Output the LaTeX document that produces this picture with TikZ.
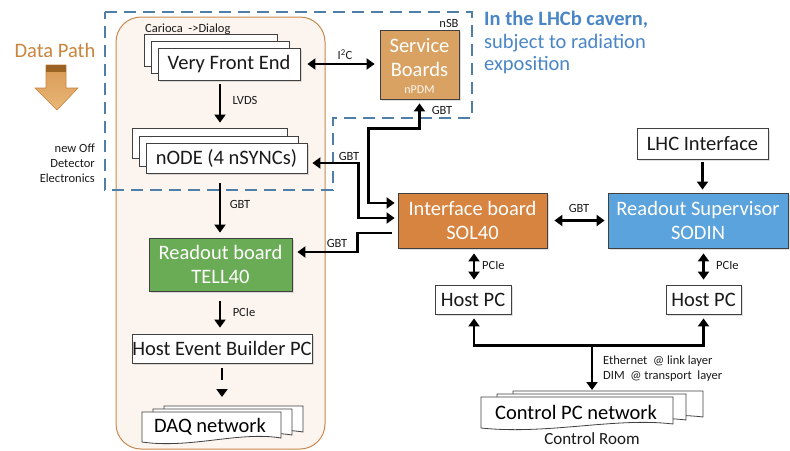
\documentclass[tikz,border=0pt]{standalone}
\usepackage{fontspec}
\setmainfont{Carlito}
\usetikzlibrary{arrows.meta,calc,shadows}
\definecolor{beigefill}{HTML}{FCF4EE}
\definecolor{beigeline}{HTML}{C8894F}
\definecolor{cavern}{HTML}{4F7EA8}
\definecolor{cavtext}{HTML}{4A86C6}
\definecolor{datapath}{HTML}{C9843E}
\definecolor{dpdark}{HTML}{9C6424}
\definecolor{dptop}{HTML}{D89A55}
\definecolor{dpbot}{HTML}{E9B677}
\definecolor{sbfill}{HTML}{D9A262}
\definecolor{solfill}{HTML}{D6843F}
\definecolor{sodinfill}{HTML}{5BA3DC}
\definecolor{tellfill}{HTML}{6AAB55}
\definecolor{ink}{HTML}{1A1A1A}
\newcommand\mydoc[4]{\filldraw[docst] (#1,#2) -- (#3,#2) -- (#3,#4) .. controls +({-0.3*(#3-#1)},-7) and +({0.35*(#3-#1)},7) .. (#1,{#4+4}) -- cycle;}
\begin{document}
\begin{tikzpicture}[x=1pt,y=-1pt,
  bigf/.style={font=\fontsize{20.5}{24}\selectfont},
  box/.style={draw=black!75, line width=0.8pt, fill=white, inner sep=0pt, align=center, text=ink, bigf,
    drop shadow={shadow xshift=1.5pt, shadow yshift=-1.5pt, opacity=0.25}},
  colbox/.style={box, text=white},
  docst/.style={draw=black!75, line width=0.8pt, fill=white},
  lbl/.style={font=\fontsize{12.5}{15}\selectfont, inner sep=0pt, text=ink},
  wtxt/.style={bigf, text=white, inner sep=0pt, align=center},
  conn/.style={line width=2.6pt, draw=black, -{Triangle[length=8pt,width=11pt]}},
  dconn/.style={line width=2.6pt, draw=black, {Triangle[length=8pt,width=11pt]}-{Triangle[length=8pt,width=11pt]}},
]
\useasboundingbox (0,0) rectangle (790,450);
\fill[white] (0,0) rectangle (790,450);

% ODE column
\draw[fill=beigefill, draw=beigeline, line width=1pt, rounded corners=25pt] (116,17) rectangle (325,449);

% Data path
\node[bigf, text=datapath, inner sep=0pt] (dptext) at (55,50) {Data Path};
\shade[top color=dptop, bottom color=dpbot, draw=datapath, line width=0.6pt]
  (46,65) -- (66,65) -- (66,88) -- (78,88) -- (57,110) -- (35,88) -- (46,88) -- cycle;
\fill[dpdark] (46,65) rectangle (66,72);
\node[lbl, anchor=east, align=right, font=\fontsize{12.5}{15.2}\selectfont] (ode) at (95,163) {new Off\\Detector\\Electronics};

% Very Front End stack
\draw[docst] (144,34) rectangle (277,66);
\draw[docst] (151,41) rectangle (289,73);
\node[box, minimum width=142, minimum height=32] (vfe) at (229,64) {Very Front End};
\node[lbl, anchor=base west] (car) at (145,32) {Carioca\ \ ->Dialog};

% nODE stack
\node[docst, inner sep=0pt, minimum width=155, minimum height=30] (ndb1) at (209.5,143) {};
\draw[docst] (139,136) rectangle (298,166);
\node[box, minimum width=161, minimum height=30] (nde) at (226.5,158) {nODE (4 nSYNCs)};

% TELL40
\node[colbox, fill=tellfill, minimum width=143, minimum height=53] (tell) at (220.5,264.5) {Readout board\\TELL40};
% Host event builder
\node[box, minimum width=180, minimum height=29] (heb) at (222,348.5) {Host Event Builder PC};
% DAQ network
\mydoc{164}{406}{303}{432}
\mydoc{153}{409}{292}{435}
\mydoc{142}{412}{281}{438}
\coordinate (daqtop) at (222,406);
\node[bigf, inner sep=0pt] (daq) at (210,427) {DAQ network};

% Service boards
\node[colbox, fill=sbfill, minimum width=79, minimum height=69] (sb) at (419.5,64.5) {};
\node[wtxt] (sbt) at ($(sb.center)+(0,-7)$) {Service\\Boards};
\node[lbl, text=white!92!sbfill, font=\fontsize{12}{14}\selectfont] (npdm) at ($(sb.south)+(0,-10)$) {nPDM};
\node[lbl] (nsb) at (449,23) {nSB};

% cavern dashed region
\draw[cavern, line width=2.6pt, dash pattern=on 12pt off 7pt]
  (105,12) -- (472,12) -- (472,118) -- (333,118) -- (333,190) -- (105,190) -- cycle;
\node[bigf, text=cavtext, anchor=base west, inner sep=0pt] (cav1) at (484,25) {\textbf{In the LHCb cavern,}};
\node[bigf, text=cavtext, anchor=base west, inner sep=0pt] (cav2) at (484,48) {subject to radiation};
\node[bigf, text=cavtext, anchor=base west, inner sep=0pt] (cav3) at (484,70) {exposition};

% SOL40, SODIN, LHC
\node[colbox, fill=solfill, minimum width=149, minimum height=55] (sol) at (472.5,220.5) {Interface board\\SOL40};
\node[colbox, fill=sodinfill, minimum width=180, minimum height=55] (sodin) at (698,220.5) {Readout Supervisor\\SODIN};
\node[box, minimum width=131, minimum height=31] (lhc) at (702.5,143.5) {LHC Interface};
\node[box, minimum width=76, minimum height=29] (hpl) at (473,299.5) {Host PC};
\node[box, minimum width=75, minimum height=29] (hpr) at (703.5,299.5) {Host PC};

% Control PC network
\mydoc{513}{391}{703}{417}
\mydoc{497}{394}{686}{420}
\mydoc{481}{397}{673}{424}
\coordinate (cpctop) at (592,391);
\node[bigf, inner sep=0pt] (cpc) at (576,412) {Control PC network};
\node[font=\fontsize{17}{20}\selectfont, inner sep=0pt, text=ink] (croom) at (592,439) {Control Room};

% columns
\coordinate (colA) at (220,0);
\coordinate (colB) at (222,0);
\coordinate (colC) at (474,0);

% connectors left column
\draw[dconn] ($(vfe.east)+(7,0)$) -- ($(sb.west)+(-5,-0.5)$);
\node[lbl] (i2c) at (345,55) {I\textsuperscript{2}C};
\draw[conn] ($(vfe.south -| colA)+(0,4)$) -- ($(ndb1.north -| colA)+(0,-5)$);
\node[lbl] (lvds) at (245,100) {LVDS};
\draw[conn] ($(nde.south -| colA)+(0,10)$) -- ($(tell.north -| colA)+(0,-5)$);
\node[lbl] (g1) at (240,204) {GBT};
\draw[conn] ($(tell.south -| colA)+(0,10)$) -- ($(heb.north -| colA)+(0,-6)$);
\node[lbl] (p1) at (244,312) {PCIe};
\draw[conn, dash pattern=on 12pt off 9pt] ($(heb.south -| colB)+(0,5)$) -- ($(daqtop)+(0,-9)$);

% GBT links from SOL40
\draw[dconn] ($(sol.west)+(-3,-17.5)$) -- ++(-26,0) |- ($(sb.south)+(0,29)$) -- ($(sb.south)+(0,4)$);
\node[lbl] (g2) at (442,110) {GBT};
\draw[dconn] ($(nde.east)+(5,5)$) -- ++(46,0) |- ($(sol.west)+(-3,-2.5)$);
\node[lbl] (g3) at (349,156) {GBT};
\draw[conn] ($(sol.west)+(-6,12.5)$) -- ++(-34,0) |- ($(tell.east)+(5,-12.5)$);
\node[lbl] (g4) at (337,243) {GBT};

% SOL40 <-> SODIN
\draw[dconn] ($(sol.east)+(7,0)$) -- ($(sodin.west)+(-3,0)$);
\node[lbl] (g5) at (579,208) {GBT};
\draw[conn] ($(lhc.south)+(0,3)$) -- ($(sodin.north -| lhc.south)+(0,-3)$);

% PCIe
\draw[dconn] ($(sol.south -| colC)+(0,5)$) -- ($(hpl.north -| colC)+(0,-5)$);
\node[lbl, anchor=west] (p2) at (482,265) {PCIe};
\draw[dconn] ($(sodin.south -| hpr.north)+(0,5)$) -- ($(hpr.north)+(0,-5)$);
\node[lbl, anchor=west] (p3) at (716,265) {PCIe};

% control network
\coordinate (bus) at (592,345);
\draw[dconn] ($(hpl.south -| colC)+(0,4)$) |- ($(hpr.south)+(0,31)$) -- ($(hpr.south)+(0,4)$);
\draw[conn] (bus) -- ($(cpctop)+(0,-1)$);
\node[lbl, anchor=base west] (eth) at (603,364) {Ethernet\ \ @ link layer};
\node[lbl, anchor=base west] (dim) at (603,379) {DIM\ \ @ transport\ \ layer};
\end{tikzpicture}
\end{document}
